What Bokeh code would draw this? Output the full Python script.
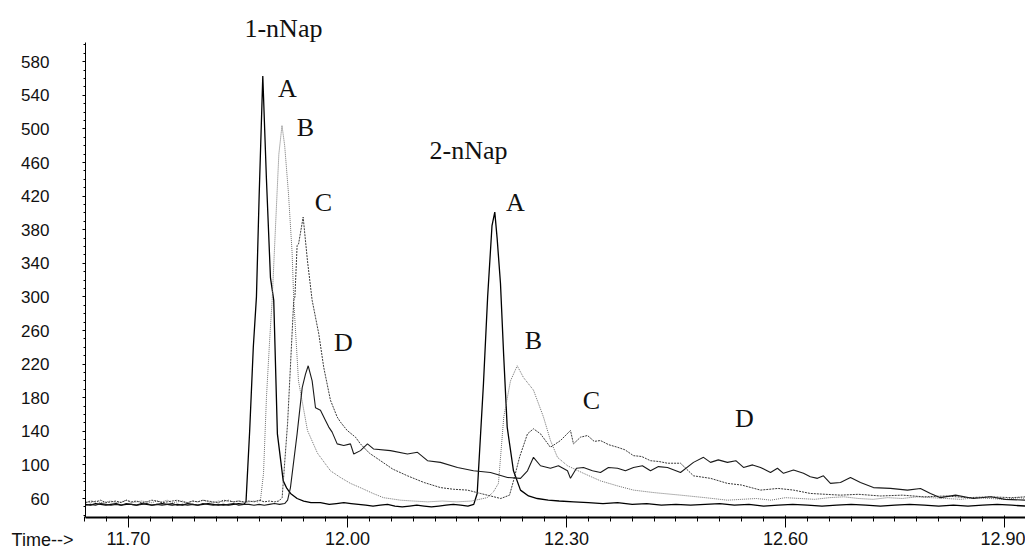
from bokeh.plotting import figure
from bokeh.models import Range1d, FixedTicker, Label
from bokeh.embed import file_html
from bokeh.resources import INLINE

# ---------------- data (retention time in min, abundance) ----------------
base_time = [11.641, 11.648, 11.655, 11.662, 11.669, 11.676, 11.683, 11.690,
             11.697, 11.704, 11.711, 11.718, 11.725, 11.732, 11.739, 11.746,
             11.753, 11.760, 11.767, 11.774, 11.781, 11.788, 11.795, 11.802,
             11.809, 11.816, 11.823, 11.830, 11.837, 11.844, 11.851, 11.858]

# Trace A (solid black)
a_base = [53, 52, 54, 53, 52, 53, 54, 52, 53, 53, 52, 54, 53, 52, 53, 54,
          53, 52, 53, 52, 54, 53, 52, 53, 54, 53, 52, 53, 52, 53, 54, 53]
a_peak_time = [11.861, 11.866, 11.871, 11.8753, 11.879, 11.884, 11.889, 11.8945,
               11.899, 11.904, 11.912, 11.917, 11.922, 11.931, 11.940, 11.950,
               11.963, 11.975, 11.985, 11.995, 12.005, 12.015, 12.025, 12.035,
               12.045, 12.055, 12.065, 12.075, 12.085, 12.095, 12.105, 12.115,
               12.125, 12.135, 12.145, 12.155, 12.165, 12.173,
               12.1777, 12.1863, 12.192, 12.198, 12.2018, 12.205, 12.2096, 12.214,
               12.2188, 12.2274, 12.237, 12.248, 12.260, 12.275, 12.290, 12.310,
               12.33, 12.35, 12.37, 12.39, 12.41, 12.43, 12.45, 12.47, 12.49,
               12.51, 12.53, 12.55, 12.57, 12.59, 12.61, 12.63, 12.65, 12.67,
               12.69, 12.71, 12.73, 12.75, 12.77, 12.79, 12.81, 12.83, 12.85,
               12.87, 12.89, 12.91, 12.929]
a_peak_val = [56, 140, 240, 300, 420, 563, 440, 323,
              296, 137, 81, 72, 66, 60, 57, 55,
              55, 53, 54, 55, 54, 53, 52, 51,
              52, 53, 51, 50, 51, 52, 51, 50,
              51, 52, 53, 52, 51, 53,
              66, 197, 300, 385, 401, 370, 316, 230,
              145, 93, 70, 63, 60, 58, 57, 56,
              55, 54, 55, 53, 54, 52, 53, 52, 53,
              54, 52, 53, 51, 52, 53, 52, 51, 52,
              53, 52, 51, 52, 53, 52, 51, 52, 51,
              52, 53, 52, 51]

# Trace B (light dotted)
b_base = [56, 55, 57, 55, 56, 57, 55, 56, 58, 55, 56, 57, 56, 55, 57, 56,
          58, 55, 56, 57, 55, 57, 56, 58, 56, 55, 57, 56, 58, 56, 57, 55]
b_peak_time = [11.865, 11.872, 11.877, 11.8808, 11.885, 11.889, 11.8935, 11.8968,
               11.9014, 11.906, 11.9103, 11.914, 11.9192, 11.9242, 11.9264, 11.9329,
               11.9452, 11.9589, 11.9767, 11.9904, 12.0041, 12.020, 12.035, 12.0493,
               12.0726, 12.090, 12.110, 12.130, 12.150, 12.170, 12.1914, 12.200,
               12.2068, 12.2141, 12.2233, 12.2325, 12.2411, 12.2548, 12.2685, 12.2781,
               12.2877, 12.3014, 12.3233, 12.3466, 12.370, 12.3918, 12.420, 12.4562,
               12.490, 12.5205, 12.54, 12.56, 12.58, 12.60, 12.62, 12.64, 12.66,
               12.68, 12.70, 12.72, 12.74, 12.76, 12.78, 12.80, 12.82, 12.84,
               12.86, 12.88, 12.90, 12.92, 12.929]
b_peak_val = [56, 57, 56, 58, 90, 180, 250, 296,
              383, 470, 504, 480, 423, 352, 296, 200,
              141, 114, 93, 85, 78, 72, 66, 61,
              58, 57, 56, 57, 56, 57, 61, 68,
              78, 157, 200, 218, 204, 189, 157, 129,
              109, 99, 90, 81, 75, 70, 67, 64,
              61, 58, 59, 60, 58, 61, 60, 59, 61,
              62, 60, 59, 61, 60, 62, 61, 60, 59,
              61, 60, 59, 61, 60]

# Trace C (dark dotted)
c_base = [55, 57, 56, 58, 55, 56, 57, 55, 58, 56, 57, 55, 56, 58, 57, 55,
          56, 57, 58, 56, 55, 57, 56, 58, 57, 56, 55, 58, 57, 56, 57, 56]
c_peak_time = [11.865, 11.872, 11.879, 11.886, 11.893, 11.900, 11.906, 11.9105,
               11.918, 11.9264, 11.928, 11.931, 11.933, 11.9393, 11.9452, 11.9516,
               11.9607, 11.9675, 11.9767, 11.9859, 11.9904, 11.9996, 12.011, 12.0178,
               12.030, 12.0452, 12.062, 12.0822, 12.105, 12.1274, 12.145, 12.1644,
               12.1822, 12.210, 12.222, 12.2274, 12.236, 12.2466, 12.2548, 12.2644,
               12.278, 12.2918, 12.3055, 12.3096, 12.3192, 12.3288, 12.338, 12.3466,
               12.358, 12.3699, 12.380, 12.3918, 12.403, 12.4151, 12.427, 12.4384,
               12.4562, 12.474, 12.4973, 12.5205, 12.54, 12.5658, 12.59, 12.611,
               12.6342, 12.6753, 12.70, 12.73, 12.76, 12.79, 12.82, 12.85, 12.88,
               12.91, 12.929]
c_peak_val = [57, 56, 58, 56, 57, 56, 57, 61,
              150, 296, 300, 361, 363, 395, 343, 296,
              256, 216, 177, 157, 151, 141, 133, 125,
              114, 105, 95, 87, 79, 73, 71, 70,
              66, 60, 64, 81, 110, 137, 143, 137,
              121, 129, 141, 125, 133, 135, 128, 129,
              124, 121, 118, 111, 110, 105, 104, 102,
              102, 87, 84, 78, 76, 70, 72, 70,
              66, 64, 65, 63, 64, 62, 63, 61, 62,
              61, 62]

# Trace D (solid dark grey)
d_base = [52, 53, 52, 54, 53, 52, 53, 52, 54, 53, 52, 53, 54, 52, 53, 52,
          53, 54, 52, 53, 52, 53, 52, 54, 53, 52, 53, 52, 53, 54, 52, 53]
d_peak_time = [11.865, 11.872, 11.879, 11.886, 11.893, 11.900, 11.907, 11.914,
               11.918, 11.9219, 11.931, 11.938, 11.9425, 11.9462, 11.9516, 11.9562,
               11.963, 11.9699, 11.9744, 11.979, 11.9859, 11.9949, 12.0041, 12.0086,
               12.0178, 12.0274, 12.0356, 12.0589, 12.0822, 12.0959, 12.1096, 12.1274,
               12.1507, 12.1726, 12.1959, 12.2192, 12.237, 12.2466, 12.2548, 12.2644,
               12.278, 12.289, 12.3014, 12.3055, 12.3137, 12.3233, 12.3356, 12.3466,
               12.3575, 12.3699, 12.3808, 12.3918, 12.404, 12.4151, 12.426, 12.4384,
               12.4562, 12.474, 12.4877, 12.4973, 12.508, 12.5205, 12.532, 12.5425,
               12.555, 12.5658, 12.5795, 12.589, 12.5973, 12.611, 12.6247, 12.634,
               12.6438, 12.652, 12.6616, 12.6753, 12.689, 12.7027, 12.7205, 12.7438,
               12.7671, 12.7849, 12.7986, 12.8123, 12.833, 12.8575, 12.881, 12.901,
               12.929]
d_peak_val = [53, 52, 53, 52, 53, 54, 53, 54,
              58, 73, 137, 192, 208, 218, 200, 168,
              165, 153, 145, 139, 125, 123, 125, 113,
              117, 125, 119, 117, 113, 115, 105, 103,
              97, 93, 91, 85, 84, 93, 109, 99,
              96, 99, 93, 84, 96, 97, 93, 91,
              97, 96, 93, 97, 99, 93, 98, 97,
              91, 103, 109, 103, 106, 103, 105, 97,
              100, 97, 91, 96, 90, 94, 90, 86,
              84, 87, 78, 79, 85, 79, 73, 72,
              70, 72, 66, 61, 64, 60, 62, 59,
              58]

y_ticks = [60, 100, 140, 180, 220, 260, 300, 340, 380, 420, 460, 500, 540, 580]
x_ticks = [11.70, 12.00, 12.30, 12.60, 12.90]
x_tick_labels = ["11.70", "12.00", "12.30", "12.60", "12.90"]

compound_labels = ["1-nNap", "2-nNap"]
compound_pos = [(11.9123, 620), (12.1658, 474)]
peak_letters = ["A", "B", "C", "D", "A", "B", "C", "D"]
peak_letter_pos = [(11.9178, 548), (11.9425, 502), (11.9671, 413), (11.9945, 246),
                   (12.2301, 413), (12.2548, 248), (12.3342, 177), (12.5438, 155)]
time_label = "Time-->"
time_label_pos = (11.5822, 10.5)

# axis extent (time, abundance)
t_axis = (11.641, 12.929)
v_axis = (37.4, 603)

# ---------------- figure ----------------
p = figure(width=1025, height=553, output_backend="svg", toolbar_location=None,
           x_range=Range1d(11.5247, 12.9288), y_range=Range1d(-5.48, 652.9))
p.min_border = 0
p.min_border_left = 0
p.min_border_right = 0
p.min_border_top = 0
p.min_border_bottom = 0
p.outline_line_color = None
p.xgrid.grid_line_color = None
p.ygrid.grid_line_color = None
p.background_fill_color = "white"
p.border_fill_color = "white"

traces = [
    (base_time + a_peak_time, a_base + a_peak_val, "#000000", 1.3, "solid"),
    (base_time + b_peak_time, b_base + b_peak_val, "#707070", 1.0, "1 1"),
    (base_time + c_peak_time, c_base + c_peak_val, "#3a3a3a", 1.0, "2 1"),
    (base_time + d_peak_time, d_base + d_peak_val, "#1a1a1a", 1.1, "solid"),
]
for t, v, col, w, dash in traces:
    p.line(t, v, line_color=col, line_width=w, line_dash=dash)

# axes drawn at fixed data locations inside the canvas
p.xaxis.fixed_location = v_axis[0]
p.xaxis.bounds = t_axis
p.xaxis.ticker = FixedTicker(ticks=x_ticks,
                             minor_ticks=[round(11.64 + 0.03 * i, 2) for i in range(44)])
p.xaxis.major_label_overrides = {t: s for t, s in zip(x_ticks, x_tick_labels)}
p.xaxis.axis_line_width = 2
p.xaxis.major_tick_out = 10
p.xaxis.major_tick_in = 2
p.xaxis.minor_tick_out = 4
p.xaxis.minor_tick_in = 1
p.xaxis.major_label_standoff = 5
p.xaxis.major_label_text_font = "Liberation Sans"
p.xaxis.major_label_text_font_size = "18px"
p.xaxis.major_label_text_color = "#111111"

p.yaxis.fixed_location = t_axis[0]
p.yaxis.bounds = v_axis
p.yaxis.ticker = FixedTicker(ticks=y_ticks,
                             minor_ticks=[40 + 10 * i for i in range(57)])
p.yaxis.axis_line_width = 1
p.yaxis.major_tick_out = 3
p.yaxis.major_tick_in = 0
p.yaxis.minor_tick_out = 2
p.yaxis.minor_tick_in = 0
p.yaxis.major_label_standoff = 33
p.yaxis.major_label_text_font = "Liberation Sans"
p.yaxis.major_label_text_font_size = "17px"
p.yaxis.major_label_text_color = "#111111"

for txt, (x, y) in zip(compound_labels, compound_pos):
    p.add_layout(Label(x=x, y=y, text=txt, text_font="Liberation Serif",
                       text_font_size="26px", text_align="center",
                       text_baseline="middle", text_color="#111111"))
for txt, (x, y) in zip(peak_letters, peak_letter_pos):
    p.add_layout(Label(x=x, y=y, text=txt, text_font="Liberation Serif",
                       text_font_size="26px", text_align="center",
                       text_baseline="middle", text_color="#111111"))

p.add_layout(Label(x=time_label_pos[0], y=time_label_pos[1], text=time_label,
                   text_font="Liberation Sans", text_font_size="18px",
                   text_align="center", text_baseline="middle",
                   text_color="#111111"))

open("out.html", "w").write(file_html(p, INLINE))
